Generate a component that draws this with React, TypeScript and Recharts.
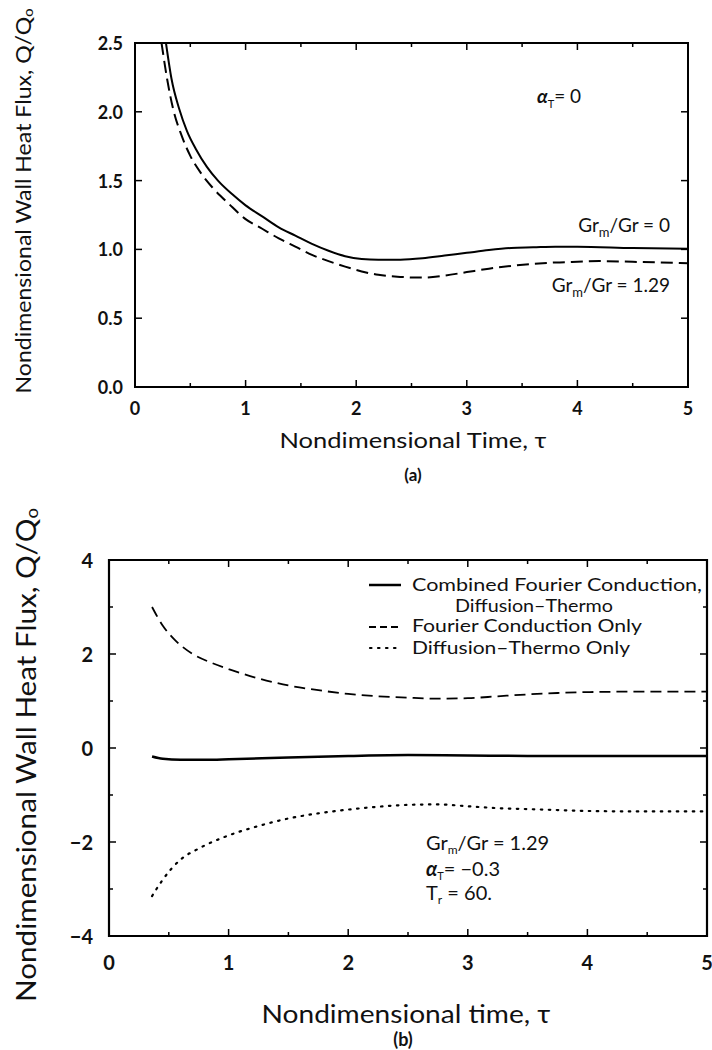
import React from 'react';
import { LineChart, Line, XAxis, YAxis, ReferenceArea } from 'recharts';

const FONT = 'Lato, "Liberation Sans", sans-serif';

// ---------- Panel (a) data ----------
const tauA_solid = [0.28, 0.33, 0.40, 0.47, 0.55, 0.65, 0.75, 0.88, 1.0, 1.15, 1.3, 1.45, 1.6, 1.75, 1.9, 2.05, 2.2, 2.4, 2.6, 2.8, 3.0, 3.2, 3.4, 3.6, 3.8, 4.0, 4.5, 5.0];
const fluxA_solid = [2.5, 2.24, 2.02, 1.86, 1.73, 1.60, 1.50, 1.40, 1.32, 1.24, 1.16, 1.10, 1.04, 0.99, 0.95, 0.93, 0.925, 0.925, 0.935, 0.955, 0.975, 0.995, 1.01, 1.015, 1.02, 1.02, 1.01, 1.005];
const tauA_dashed = [0.24, 0.29, 0.345, 0.42, 0.5, 0.6, 0.7, 0.85, 1.0, 1.15, 1.3, 1.45, 1.6, 1.75, 1.9, 2.05, 2.2, 2.4, 2.6, 2.8, 3.0, 3.2, 3.4, 3.6, 3.8, 4.0, 4.2, 4.5, 5.0];
const fluxA_dashed = [2.5, 2.24, 2.02, 1.83, 1.68, 1.55, 1.45, 1.33, 1.22, 1.15, 1.08, 1.02, 0.96, 0.915, 0.875, 0.84, 0.815, 0.80, 0.795, 0.81, 0.835, 0.86, 0.88, 0.895, 0.905, 0.91, 0.915, 0.91, 0.90];
const xTicksA = [0, 0.5, 1, 1.5, 2, 2.5, 3, 3.5, 4, 4.5, 5];
const yTicksA = [0, 0.5, 1, 1.5, 2, 2.5];

// ---------- Panel (b) data ----------
const tauB_combined = [0.36, 0.45, 0.6, 0.8, 1.0, 1.5, 2.0, 2.5, 3.0, 3.5, 4.0, 4.5, 5.0];
const fluxB_combined = [-0.18, -0.23, -0.25, -0.25, -0.24, -0.20, -0.17, -0.15, -0.16, -0.17, -0.17, -0.17, -0.17];
const tauB_fourier = [0.36, 0.45, 0.55, 0.7, 0.85, 1.0, 1.25, 1.5, 1.75, 2.0, 2.25, 2.5, 2.75, 3.0, 3.25, 3.5, 3.75, 4.0, 4.5, 5.0];
const fluxB_fourier = [3.0, 2.6, 2.3, 2.0, 1.82, 1.68, 1.48, 1.33, 1.23, 1.15, 1.10, 1.07, 1.05, 1.06, 1.10, 1.14, 1.17, 1.19, 1.20, 1.20];
const tauB_dt = [0.36, 0.45, 0.6, 0.75, 1.0, 1.25, 1.5, 1.75, 2.0, 2.25, 2.5, 2.75, 3.0, 3.25, 3.5, 3.75, 4.0, 4.5, 5.0];
const fluxB_dt = [-3.15, -2.8, -2.37, -2.14, -1.86, -1.66, -1.50, -1.39, -1.31, -1.25, -1.21, -1.20, -1.24, -1.28, -1.30, -1.32, -1.34, -1.35, -1.35];
const xTicksB = [0, 0.5, 1, 1.5, 2, 2.5, 3, 3.5, 4, 4.5, 5];
const yTicksB = [-4, -3, -2, -1, 0, 1, 2, 3, 4];

const pts = (t: number[], v: number[]) => t.map((x, i) => ({ t: x, v: v[i] }));

const solidA = pts(tauA_solid, fluxA_solid);
const dashedA = pts(tauA_dashed, fluxA_dashed);
const combinedB = pts(tauB_combined, fluxB_combined);
const fourierB = pts(tauB_fourier, fluxB_fourier);
const dtB = pts(tauB_dt, fluxB_dt);

const fmtMinus = (v: number) => (v < 0 ? '\u2212' + Math.abs(v) : String(v));

type TickOpts = {
  isMajor: (v: number) => boolean;
  label?: (v: number) => string;
  off: number;
  fontSize: number;
  span: number; // distance to the opposite side of the frame
};

const TW = 1.5;

const bottomTick = (o: TickOpts) => (p: any) => {
  const v = p.payload.value;
  const maj = o.isMajor(v);
  const len = maj ? 7 : 4;
  const yTop = p.y - o.span;
  return (
    <g>
      <line x1={p.x} y1={p.y} x2={p.x} y2={p.y - len} stroke="#000" strokeWidth={TW} />
      <line x1={p.x} y1={yTop} x2={p.x} y2={yTop + len} stroke="#000" strokeWidth={TW} />
      {maj && o.label ? (
        <text x={p.x} y={p.y + o.off} textAnchor="middle" dominantBaseline="central"
          fontFamily={FONT} fontWeight="bold" fontSize={o.fontSize} fill="#111">
          {o.label(v)}
        </text>
      ) : null}
    </g>
  );
};

const leftTick = (o: TickOpts) => (p: any) => {
  const v = p.payload.value;
  const maj = o.isMajor(v);
  const len = maj ? 7 : 4;
  const xRight = p.x + o.span;
  return (
    <g>
      <line x1={p.x} y1={p.y} x2={p.x + len} y2={p.y} stroke="#000" strokeWidth={TW} />
      <line x1={xRight} y1={p.y} x2={xRight - len} y2={p.y} stroke="#000" strokeWidth={TW} />
      {maj && o.label ? (
        <text x={p.x - o.off} y={p.y} textAnchor="end" dominantBaseline="central"
          fontFamily={FONT} fontWeight="bold" fontSize={o.fontSize} fill="#111">
          {o.label(v)}
        </text>
      ) : null}
    </g>
  );
};

const isInt = (v: number) => Math.abs(v - Math.round(v)) < 1e-9;
const isEven = (v: number) => Math.abs(v / 2 - Math.round(v / 2)) < 1e-9;
const always = () => true;

// layout (panel a): plot 135..688 x 43..387 ; (panel b): plot 109..707 x 560..936 (page coords)
function PanelA() {
  return (
    <LineChart width={712} height={490} margin={{ top: 43, right: 24, bottom: 0, left: 0 }}>
      <XAxis dataKey="t" type="number" domain={[0, 5]} ticks={xTicksA} interval={0}
        allowDataOverflow height={103} tickSize={0} tickMargin={0} tickLine={false} axisLine={false}
        tick={bottomTick({ isMajor: isInt, label: (v) => String(v), off: 21, fontSize: 18, span: 344 })} />
      <YAxis type="number" domain={[0, 2.5]} ticks={yTicksA} interval={0} allowDataOverflow
        width={135} tickSize={0} tickMargin={0} tickLine={false} axisLine={false}
        tick={leftTick({ isMajor: always, label: (v) => v.toFixed(1), off: 12, fontSize: 18, span: 553 })} />
      <ReferenceArea x1={0} x2={5} y1={0} y2={2.5} fill="none" stroke="#000" strokeWidth={2} fillOpacity={0} />
      <Line data={solidA} dataKey="v" type="monotone" stroke="#000"
        strokeWidth={2} dot={false} isAnimationActive={false} />
      <Line data={dashedA} dataKey="v" type="monotone" stroke="#000"
        strokeWidth={2} strokeDasharray="12 6" dot={false} isAnimationActive={false} />
    </LineChart>
  );
}

function PanelB() {
  return (
    <LineChart width={712} height={560} margin={{ top: 70, right: 5, bottom: 0, left: 0 }}>
      <XAxis dataKey="t" type="number" domain={[0, 5]} ticks={xTicksB} interval={0}
        allowDataOverflow height={114} tickSize={0} tickMargin={0} tickLine={false} axisLine={false}
        tick={bottomTick({ isMajor: isInt, label: (v) => String(v), off: 26, fontSize: 20, span: 376 })} />
      <YAxis type="number" domain={[-4, 4]} ticks={yTicksB} interval={0} allowDataOverflow
        width={109} tickSize={0} tickMargin={0} tickLine={false} axisLine={false}
        tick={leftTick({ isMajor: isEven, label: fmtMinus, off: 16, fontSize: 20, span: 598 })} />
      <ReferenceArea x1={0} x2={5} y1={-4} y2={4} fill="none" stroke="#000" strokeWidth={2.2} fillOpacity={0} />
      <Line data={combinedB} dataKey="v" type="monotone" stroke="#000"
        strokeWidth={2.5} dot={false} isAnimationActive={false} />
      <Line data={fourierB} dataKey="v" type="monotone" stroke="#000"
        strokeWidth={1.8} strokeDasharray="11 6" dot={false} isAnimationActive={false} />
      <Line data={dtB} dataKey="v" type="monotone" stroke="#000"
        strokeWidth={2.2} strokeDasharray="1.5 6.5" strokeLinecap="round" dot={false} isAnimationActive={false} />
    </LineChart>
  );
}

function Overlay() {
  const t = { fontFamily: FONT, fill: '#111' } as const;
  return (
    <svg width={712} height={1050} style={{ position: 'absolute', left: 0, top: 0, pointerEvents: 'none' }}>
      {/* Panel (a) texts */}
      <text {...t} transform="translate(22,201) rotate(-90)" textAnchor="middle" dominantBaseline="central"
        fontSize={22} textLength={385} lengthAdjust="spacingAndGlyphs">
        Nondimensional Wall Heat Flux, Q/Q<tspan dy={5} fontSize={14}>o</tspan>
      </text>
      <text {...t} x={413} y={448} textAnchor="middle" fontSize={22} textLength={267} lengthAdjust="spacingAndGlyphs">
        Nondimensional Time, τ
      </text>
      <text {...t} x={413} y={481} textAnchor="middle" fontSize={17} fontWeight="bold">(a)</text>
      <text {...t} x={537} y={103} fontSize={19}>
        <tspan fontWeight="bold" fontStyle="italic">α</tspan>
        <tspan dy={5} fontSize={11}>T</tspan>
        <tspan dy={-5}>= 0</tspan>
      </text>
      <text {...t} x={670} y={232} textAnchor="end" fontSize={19}>
        Gr<tspan dy={5} fontSize={13}>m</tspan><tspan dy={-5}>/Gr = 0</tspan>
      </text>
      <text {...t} x={670} y={292} textAnchor="end" fontSize={19}>
        Gr<tspan dy={5} fontSize={13}>m</tspan><tspan dy={-5}>/Gr = 1.29</tspan>
      </text>

      {/* Panel (b) texts */}
      <text {...t} transform="translate(25,755) rotate(-90)" textAnchor="middle" dominantBaseline="central"
        fontSize={27} textLength={494} lengthAdjust="spacingAndGlyphs">
        Nondimensional Wall Heat Flux, Q/Q<tspan dy={6} fontSize={17}>o</tspan>
      </text>
      <text {...t} x={406} y={1023} textAnchor="middle" fontSize={25} textLength={289} lengthAdjust="spacingAndGlyphs">
        Nondimensional time, τ
      </text>
      <text {...t} x={403} y={1046} textAnchor="middle" fontSize={18} fontWeight="bold">(b)</text>

      {/* legend */}
      <line x1={369} y1={585} x2={401} y2={585} stroke="#000" strokeWidth={2.5} />
      <line x1={369} y1={627} x2={401} y2={627} stroke="#000" strokeWidth={1.8} strokeDasharray="7 4" />
      <line x1={370} y1={648} x2={401} y2={648} stroke="#000" strokeWidth={2.2} strokeDasharray="1.5 6.5" strokeLinecap="round" />
      <text {...t} x={412} y={591} fontSize={17} textLength={290} lengthAdjust="spacingAndGlyphs">Combined Fourier Conduction,</text>
      <text {...t} x={455} y={612} fontSize={17} textLength={158} lengthAdjust="spacingAndGlyphs">Diffusion–Thermo</text>
      <text {...t} x={412} y={632} fontSize={17} textLength={230} lengthAdjust="spacingAndGlyphs">Fourier Conduction Only</text>
      <text {...t} x={412} y={654} fontSize={17} textLength={218} lengthAdjust="spacingAndGlyphs">Diffusion–Thermo Only</text>

      {/* annotation */}
      <text {...t} x={426} y={850} fontSize={20}>
        Gr<tspan dy={4} fontSize={12}>m</tspan><tspan dy={-4}>/Gr = 1.29</tspan>
      </text>
      <text {...t} x={426} y={876} fontSize={20}>
        <tspan fontWeight="bold" fontStyle="italic">α</tspan>
        <tspan dy={4} fontSize={11}>T</tspan>
        <tspan dy={-4}>= −0.3</tspan>
      </text>
      <text {...t} x={426} y={900} fontSize={20}>
        T<tspan dy={4} fontSize={12}>r</tspan><tspan dy={-4}> = 60.</tspan>
      </text>
    </svg>
  );
}

export default function App() {
  return (
    <div style={{ position: 'absolute', left: 0, top: 0, width: 712, height: 1050, background: '#fff', overflow: 'hidden' }}>
      <div style={{ position: 'absolute', left: 0, top: 0 }}>
        <PanelA />
      </div>
      <div style={{ position: 'absolute', left: 0, top: 490 }}>
        <PanelB />
      </div>
      <Overlay />
    </div>
  );
}
